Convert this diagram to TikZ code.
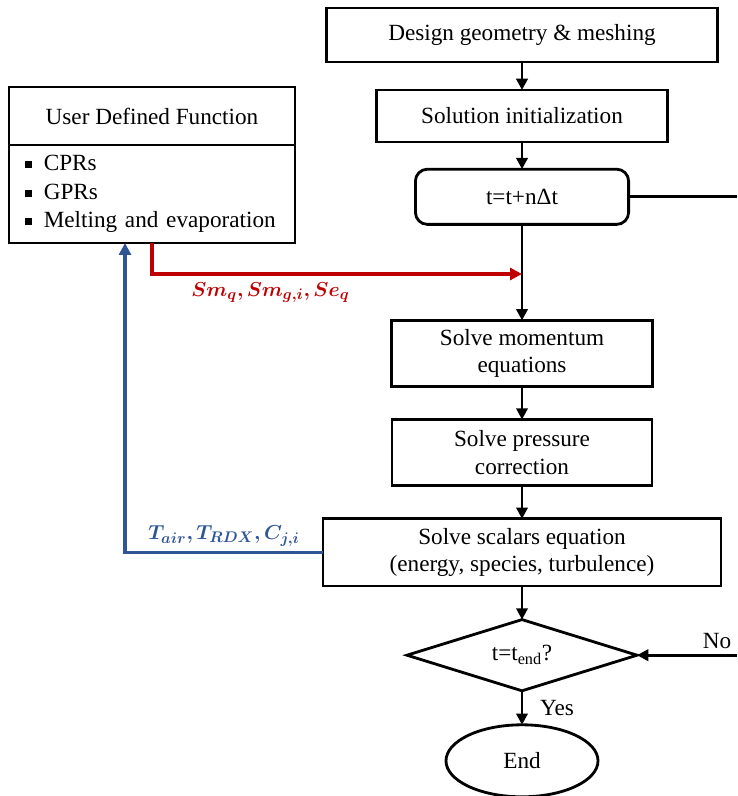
\documentclass[tikz,border=0pt]{standalone}
\usepackage{fontspec}
\setmainfont{Liberation Serif}
\usepackage{bm}
\usetikzlibrary{shapes, arrows.meta, positioning}
\definecolor{udfred}{RGB}{192,0,0}
\definecolor{udfblue}{RGB}{47,85,151}
\newcommand{\udfitem}{\hspace*{0.22cm}\rule[0.25ex]{0.17cm}{0.17cm}\hspace{0.3cm}}

\begin{document}
\begin{tikzpicture}[
      font=\fontsize{16.5}{19.5}\selectfont,
      node distance=0.83cm,
      box/.style={rectangle, draw, line width=2pt, outer sep=0pt, align=center},
      roundbox/.style={box, rounded corners=0.3cm},
      listbox/.style={rectangle, draw, line width=2pt, outer sep=0pt, align=left, inner xsep=0.18cm, font=\fontsize{16.5}{20.3}\selectfont},
      decision/.style={diamond, aspect=3.2, draw, line width=2pt, outer sep=0pt, inner sep=0pt},
      terminal/.style={ellipse, draw, line width=2pt, outer sep=0pt},
      flowlabel/.style={font=\fontsize{15}{18}\selectfont},
      line/.style={line width=2pt},
      arrow/.style={line, -{Triangle[length=8pt,width=8pt]}},
      redarrow/.style={line width=2.4pt, color=udfred, -{Triangle[length=8.5pt,width=8.5pt]}},
      bluearrow/.style={line width=2.4pt, color=udfblue, -{Triangle[length=8.5pt,width=8.5pt]}}
    ]
      \useasboundingbox (0,0) rectangle (18.425,-19.9);

      % main column
      \node (design) [box, minimum width=9.78cm, minimum height=1.35cm] at (13.05,-0.875) {Design geometry \& meshing};
      \node (init) [box, minimum width=7.28cm, minimum height=1.3cm, below=0.7cm of design] {Solution initialization};
      \node (tstep) [roundbox, minimum width=5.33cm, minimum height=1.38cm, below=0.68cm of init] {t=t+nΔt};
      \node (momentum) [box, minimum width=6.53cm, minimum height=1.65cm, below=2.4cm of tstep] {Solve momentum\\equations};
      \node (pressure) [box, minimum width=6.5cm, minimum height=1.65cm, below=of momentum] {Solve pressure\\correction};
      \node (scalars) [box, minimum width=9.95cm, minimum height=1.68cm, below=of pressure] {Solve scalars equation\\(energy, species, turbulence)};
      \node (check) [decision, minimum width=5.75cm, minimum height=1.78cm, below=0.84cm of scalars] {t=t\textsubscript{end}?};
      \node (finish) [terminal, minimum width=3.8cm, minimum height=1.8cm, below=0.85cm of check] {End};

      % user defined function
      \node (udftitle) [box, minimum width=7.15cm, minimum height=1.45cm] at (3.8,-2.9) {User Defined Function};
      \node (udflist) [listbox, text width=6.79cm, minimum width=7.15cm, minimum height=2.45cm, below=0pt of udftitle]
        {\udfitem CPRs\\ \udfitem GPRs\\ \udfitem Melting and evaporation};

      \coordinate (rightedge) at (18.425,0);
      \coordinate (sourcein) at (13.05,-6.85);
      \coordinate (feedback) at (3.125,0);

      \draw [arrow] (design) -- (init);
      \draw [arrow] (init) -- (tstep);
      \draw [arrow] (tstep) -- (momentum);
      \draw [arrow] (momentum) -- (pressure);
      \draw [arrow] (pressure) -- (scalars);
      \draw [arrow] (scalars) -- (check);
      \draw [arrow] (check) -- node[right, xshift=0.3cm] {Yes} (finish);
      \draw [line] (tstep.east) -- (tstep.east -| rightedge);
      \draw [arrow] (check.east -| rightedge) -- node[pos=0.2, above] {No} (check.east);

      \draw [redarrow] (udflist.south) |- node[flowlabel, pos=0.66, below, yshift=-0.05cm] {$\bm{Sm_q, Sm_{g,i}, Se_q}$} (sourcein);
      \draw [bluearrow] (scalars.west) -- node[flowlabel, midway, above] {$\bm{T_{air}, T_{RDX}, C_{j,i}}$} (scalars.west -| feedback) -- (feedback |- udflist.south);
    \end{tikzpicture}
\end{document}
